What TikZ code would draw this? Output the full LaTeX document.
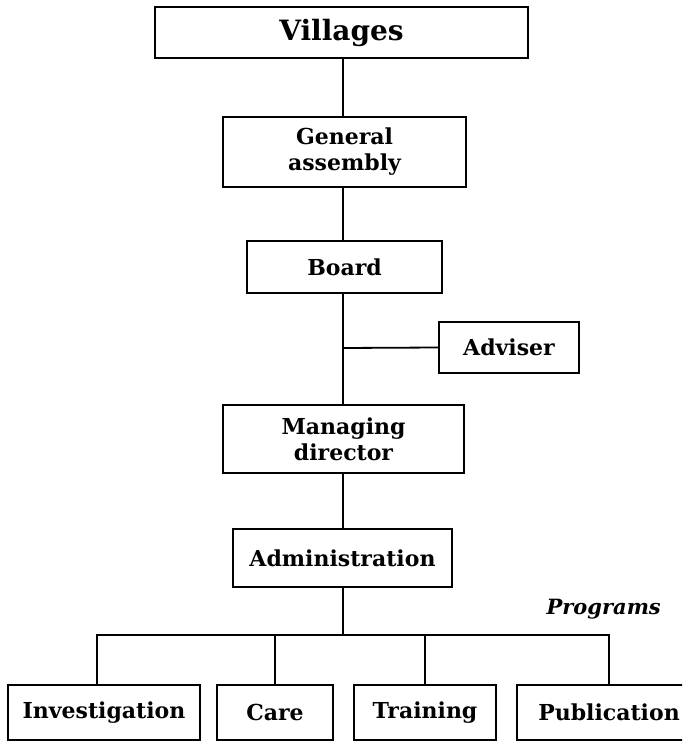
\documentclass[tikz,border=0pt]{standalone}
\usepackage{fontspec}
\setmainfont{DejaVu Serif}
\begin{document}
\begin{tikzpicture}[x=1pt,y=-1pt,
  box/.style={draw,line width=1.9pt,inner sep=0pt,align=center,font=\fontsize{22}{26}\selectfont\bfseries},
  conn/.style={line width=1.8pt}]
\clip (0,0) rectangle (682,743);
\node[box,font=\fontsize{28}{32}\selectfont\bfseries,minimum width=373,minimum height=51] (vil) at (341.5,32.5) {Villages};
\node[box,minimum width=243,minimum height=70] (ga) at (344.5,152) {General\\assembly};
\node[box,minimum width=195,minimum height=52] (board) at (344.5,267) {Board};
\node[box,minimum width=140,minimum height=51] (adv) at (509,347.5) {Adviser};
\node[box,minimum width=241,minimum height=68] (md) at (343.5,439) {Managing\\director};
\node[box,minimum width=219,minimum height=58] (adm) at (342.5,558) {Administration};
\node[anchor=base east,inner sep=0pt,font=\fontsize{21}{26}\selectfont\bfseries\itshape] (prog) at (661,614) {Programs};
\node[box,minimum width=192,minimum height=55] (inv) at (104,712.5) {Investigation};
\node[box,minimum width=116,minimum height=55] (care) at (275,712.5) {Care};
\node[box,minimum width=142,minimum height=55] (tra) at (425,712.5) {Training};
\node[box,minimum width=184,minimum height=55] (pub) at (609,712.5) {Publication};
\coordinate (junc) at (343,348);
\coordinate (bar) at (343,635);
\draw[conn] (vil.south -| 343,0) -- (ga.north -| 343,0);
\draw[conn] (ga.south -| 343,0) -- (board.north -| 343,0);
\draw[conn] (board.south -| 343,0) -- (md.north -| 343,0);
\draw[conn] (junc) -- (adv.west);
\draw[conn] (md.south -| 343,0) -- (adm.north -| 343,0);
\draw[conn] (adm.south -| bar) -- (bar);
\draw[conn] ([xshift=-7pt]inv.north) |- (bar);
\draw[conn] (bar) -| (pub.north);
\draw[conn] (care.north) -- (care.north |- bar);
\draw[conn] (tra.north) -- (tra.north |- bar);
\end{tikzpicture}
\end{document}
